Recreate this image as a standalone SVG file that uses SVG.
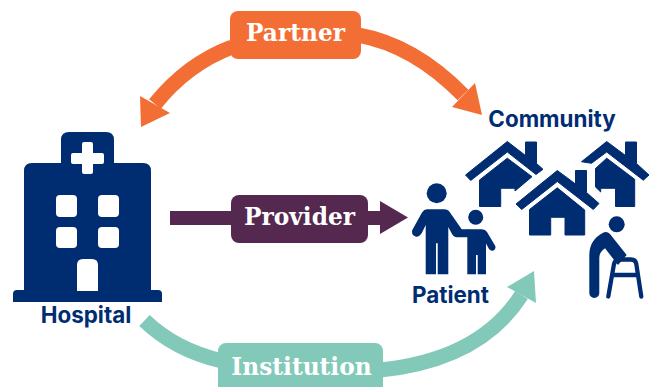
<svg xmlns="http://www.w3.org/2000/svg" width="650" height="387" viewBox="0 0 650 387">
<style>
.n{fill:#002D72}
.h{fill:#002D72;stroke:#002D72;stroke-width:1;stroke-linejoin:round}
.w{fill:#fff}
.lab{font-family:"Inter","Liberation Sans",sans-serif;font-weight:700;fill:#002D72;text-anchor:middle;font-size:22.400px}
.tag{font-family:"DejaVu Serif","Liberation Serif",serif;font-weight:700;fill:#fff;text-anchor:middle;font-size:23.300px}
.arc{fill:none;stroke-width:15}
</style>
<rect width="650" height="387" fill="#fff"/>
<g id="connectors">
<g fill="#F26E35" stroke="#F26E35">
<path class="arc" d="M232,47Q187,64 155,104"/>
<path class="arc" d="M358,35Q414,45 463,95"/>
<path stroke="none" d="M141,127L140,96L170,113Z"/>
<path stroke="none" d="M482,115L475,83L452,107Z"/>
</g>
<g fill="#55284F">
<path d="M170,211H232V225H170Z"/>
<path d="M366,211H380V201L408,217.500L380,234V225H366Z"/>
</g>
<g fill="#82C9BA" stroke="#82C9BA">
<path class="arc" d="M144.500,320.500Q175,350 222,361"/>
<path class="arc" d="M380,370Q480,360 521.500,295"/>
<path stroke="none" d="M534,271L507,287L536,303Z"/>
</g>
</g>
<g id="partner">
<rect x="230" y="11" width="131" height="48" rx="8" fill="#F26E35"/>
<text class="tag" x="295.500" y="41">Partner</text>
</g>
<g id="provider">
<rect x="231" y="195" width="137" height="48" rx="8" fill="#55284F"/>
<text class="tag" x="299.500" y="225">Provider</text>
</g>
<g id="institution">
<rect x="218" y="343" width="165" height="60" rx="8" fill="#82C9BA"/>
<text class="tag" x="301.500" y="375">Institution</text>
</g>
<g id="hospital">
<path class="n" d="M61,163V140Q61,132 69,132H106Q114,132 114,140V163H143Q151,163 151,171V290H158Q162,290 162,294V302H13V294Q13,290 17,290H24V171Q24,163 32,163Z"/>
<path class="w" d="M84,142H91Q93,142 93,144V153H102Q104,153 104,155V162Q104,164 102,164H93V172Q93,174 91,174H84Q82,174 82,172V164H73Q71,164 71,162V155Q71,153 73,153H82V144Q82,142 84,142Z"/>
<rect class="w" x="56" y="195" width="21" height="22" rx="4"/>
<rect class="w" x="98" y="195" width="21" height="22" rx="4"/>
<rect class="w" x="56" y="227" width="21" height="21" rx="4"/>
<rect class="w" x="98" y="227" width="21" height="21" rx="4"/>
<path class="w" d="M77,291V265Q77,259 83,259H92Q98,259 98,265V291Z"/>
<text class="lab" x="86" y="323">Hospital</text>
</g>
<g id="community">
<text class="lab" x="552" y="127">Community</text>
<g id="house-left">
<path class="h" d="M465.500,175L507.300,141.500L525.500,155.500V142H536.500V163.500L543,169.300L536,174.500L507.300,152L470.700,180.500Z"/>
<path class="h" d="M507.300,158.200L532,176.700L515,191V188.300H500.700V206.500H479.500V180Z"/>
</g>
<g id="house-right">
<path class="h" d="M581.500,161.700L606.700,141.500L625.500,155.500V142H636.500V163.500L649,175L643.300,180.200L606.700,152L591.500,163.300Z"/>
<path class="h" d="M606.700,158.200L634.700,179.300V206.500H615.500V188.300H600.700V192L595.500,187V168.500Z"/>
</g>
<g id="house-front">
<path class="h" d="M516,204L557.300,170.500L575.500,184V170.500H586.500V192.500L599,203.500L593.300,209.500L557.300,181.500L521.700,209.500Z"/>
<path class="h" d="M557.300,187.800L584.700,210V235H565V217.300H550.700V235H529.500V209.500Z"/>
</g>
<g id="elder">
<circle class="n" cx="616.700" cy="224.300" r="8"/>
<path class="n" d="M589.300,293V255Q589.300,240 603,232.700Q607,231 610,234L626.700,255L618,265L605,248.300Q599.300,252 599.300,258V293A5,5 0 0 1 589.300,293Z"/>
<path fill="none" stroke="#002D72" stroke-width="4.300" stroke-linecap="round" d="M608.300,296.500L614,264Q615,260 619,259.500H631Q635.500,259.500 636.300,264L641.300,296.500M612,275H638"/>
</g>
</g>
<g id="patient">
<circle class="n" cx="436.700" cy="193.300" r="10"/>
<circle class="n" cx="475.700" cy="217.300" r="7.500"/>
<path class="n" d="M427,209.300H444Q448,209.300 450,212.500L461.700,229.300H468.300V237.300H457Q454,237.300 452,234L448.300,227V274.300H437.700V243.300H436V274.300H425.700V225L421.700,233.300Q419,237.500 415.500,236.500Q411,234.500 412.300,230L422,212.500Q424,209.300 427,209.300Z"/>
<path class="n" d="M467.300,229.300H482Q485.500,229.300 487,232L495,245.500Q496.500,249 493.500,250.500Q491,251.500 489,249L486,243.500V274.300H477.700V255H476V274.300H467.300Z"/>
<text class="lab" x="450.500" y="303">Patient</text>
</g>
</svg>
